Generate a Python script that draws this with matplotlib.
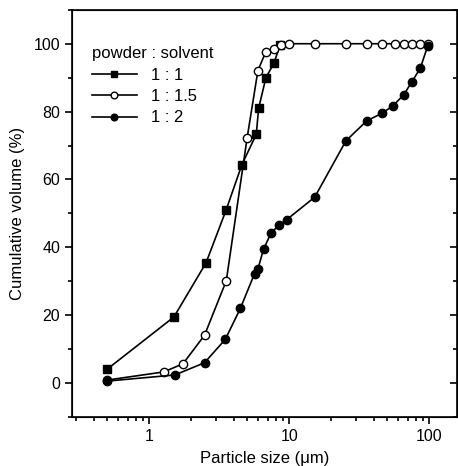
import matplotlib
matplotlib.use("Agg")
import matplotlib.pyplot as plt
from matplotlib.ticker import MultipleLocator, LogLocator, NullFormatter, FixedLocator, FixedFormatter

plt.rcParams['font.family'] = ['Liberation Sans', 'DejaVu Sans']

# 1 : 1 (filled squares)
size_11 = [0.5, 1.5, 2.54, 3.53, 4.59, 5.81, 6.04, 6.81, 7.77, 8.62]
vol_11 = [4.1, 19.5, 35.4, 50.9, 64.4, 73.3, 81.0, 90.0, 94.3, 99.7]

# 1 : 1.5 (open circles)
size_115 = [0.5, 1.27, 1.74, 2.48, 3.55, 5.0, 5.97, 6.81, 7.74, 8.7, 9.9,
            15.3, 25.4, 35.9, 45.9, 56.5, 65.5, 75.2, 85.3, 97.2]
vol_115 = [0.9, 3.3, 5.7, 14.1, 30.2, 72.3, 92.1, 97.7, 98.4, 99.7, 100,
           100, 100, 100, 100, 100, 100, 100, 100, 100]

# 1 : 2 (filled circles)
size_12 = [0.5, 1.52, 2.48, 3.49, 4.47, 5.65, 5.97, 6.55, 7.43, 8.5, 9.6,
           15.2, 25.4, 35.8, 45.9, 55.0, 65.5, 75.2, 86.3, 97.2]
vol_12 = [0.6, 2.4, 6.0, 12.9, 22.0, 32.3, 33.6, 39.5, 44.3, 46.7, 48.2,
          54.8, 71.4, 77.3, 79.5, 81.7, 84.9, 88.8, 92.8, 99.2]

fig = plt.figure(figsize=(4.58, 4.66), dpi=100)
ax = fig.add_axes([0.157, 0.105, 0.841, 0.874])

style = dict(color='black', linewidth=1.2, markersize=6)
ax.plot(size_11, vol_11, marker='s', markerfacecolor='black', label='1 : 1', **style)
ax.plot(size_115, vol_115, marker='o', markerfacecolor='white', label='1 : 1.5', **style)
ax.plot(size_12, vol_12, marker='o', markerfacecolor='black', label='1 : 2', **style)

ax.set_xscale('log')
ax.set_xlim(0.28, 158)
ax.set_ylim(-10, 110)

ax.xaxis.set_major_locator(FixedLocator([1, 10, 100]))
ax.xaxis.set_major_formatter(FixedFormatter(['1', '10', '100']))
ax.xaxis.set_minor_locator(LogLocator(base=10, subs=range(2, 10)))
ax.xaxis.set_minor_formatter(NullFormatter())
ax.yaxis.set_major_locator(FixedLocator([0, 20, 40, 60, 80, 100]))
ax.yaxis.set_minor_locator(MultipleLocator(10))

ax.tick_params(which='both', direction='out', top=False, right=False, labelsize=11.5, width=1.2)
ax.tick_params(which='major', length=5)
ax.tick_params(which='minor', length=3)
for s in ax.spines.values():
    s.set_linewidth(1.2)

# inward ticks on the right side
ax2 = ax.twinx()
ax2.set_ylim(ax.get_ylim())
ax2.yaxis.set_major_locator(FixedLocator([0, 20, 40, 60, 80, 100]))
ax2.yaxis.set_minor_locator(MultipleLocator(10))
ax2.tick_params(which='both', direction='in', labelright=False, width=1.2)
ax2.tick_params(which='major', length=5)
ax2.tick_params(which='minor', length=3)

ax.set_xlabel('Particle size (μm)', fontsize=12, labelpad=5)
ax.set_ylabel('Cumulative volume (%)', fontsize=12, labelpad=6)

leg = ax.legend(title='powder : solvent', loc='upper left', bbox_to_anchor=(0.051, 0.91),
                frameon=False, fontsize=12, title_fontsize=12, handlelength=2.75,
                handletextpad=0.8, labelspacing=0.38, markerscale=0.8,
                borderaxespad=0, borderpad=0)
leg._legend_box.align = 'left'

fig.savefig('out.png', dpi=100)
